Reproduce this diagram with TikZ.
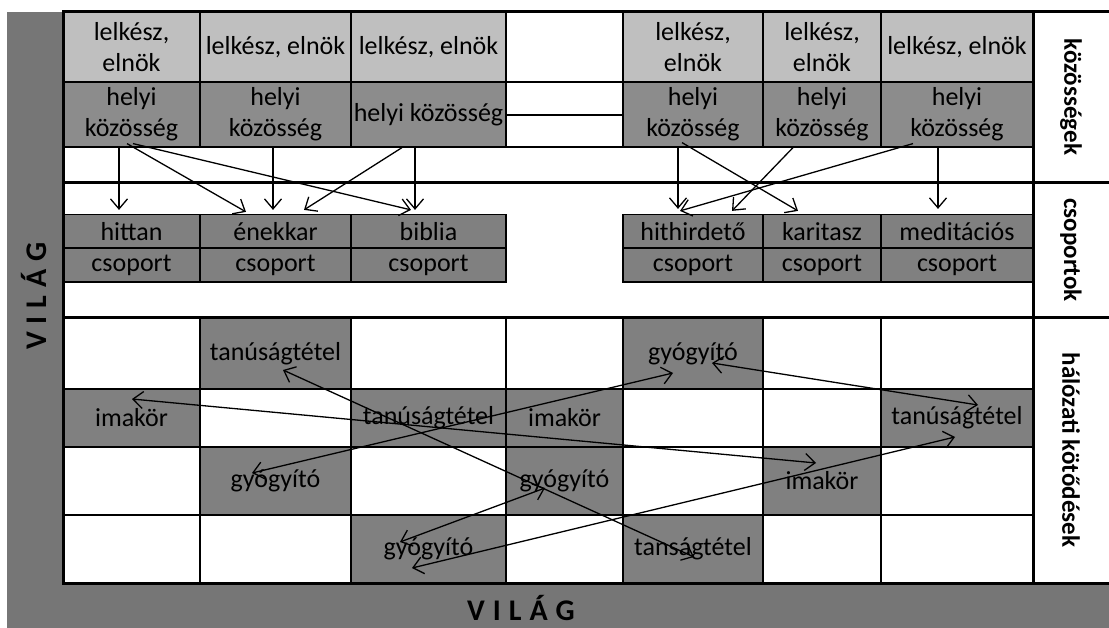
\documentclass[tikz,border=0pt]{standalone}
\usepackage{fontspec}
\setmainfont{Carlito}
\usetikzlibrary{arrows.meta}
\definecolor{leadgray}{RGB}{191,191,191}
\definecolor{localgray}{RGB}{140,140,140}
\definecolor{groupgray}{RGB}{128,128,128}
\definecolor{netgray}{RGB}{128,128,128}
\definecolor{worldgray}{RGB}{118,118,118}
\begin{document}
\begin{tikzpicture}[x=1pt,y=-1pt,>={Straight Barb[length=10pt,width=17pt]}]
\tikzstyle{cell}=[draw, line width=1.2pt, inner sep=0pt, align=center, font=\fontsize{26}{31}\selectfont]
\tikzstyle{lead}=[cell, fill=leadgray, minimum height=70pt]
\tikzstyle{local}=[cell, fill=localgray, minimum height=65pt]
\tikzstyle{group}=[cell, fill=groupgray, minimum height=34pt]
\tikzstyle{net}=[cell, fill=netgray]
\tikzstyle{side}=[font=\fontsize{25}{30}\selectfont\bfseries, rotate=-90]
\tikzstyle{world}=[font=\fontsize{30}{36}\selectfont\bfseries]
\tikzstyle{link}=[line width=1.3pt]
\tikzstyle{frame}=[line width=3pt]
\useasboundingbox (0,0) rectangle (1109,628);

% world band
\fill[worldgray] (7,12) rectangle (62,628);
\fill[worldgray] (7,583) rectangle (1109,628);
\node [world, rotate=90] (wl) at (34,296) {V\kern8pt I\kern8pt L\kern8pt Á\kern8pt G};
\node [world] (wb) at (521,608) {V\kern8pt I\kern8pt L\kern8pt Á\kern8pt G};

% communities
\node [lead, minimum width=137pt] (l1) at (131.5,47) {lelkész,\\elnök};
\node [lead, minimum width=151pt] (l2) at (275.5,47) {lelkész, elnök};
\node [lead, minimum width=155pt] (l3) at (428.5,47) {lelkész, elnök};
\node [lead, minimum width=140pt] (l5) at (693,47) {lelkész,\\elnök};
\node [lead, minimum width=118pt] (l6) at (822,47) {lelkész,\\elnök};
\node [lead, minimum width=152pt] (l7) at (957,47) {lelkész, elnök};
\node [local, minimum width=137pt] (h1) at (131.5,114.5) {helyi\\közösség};
\node [local, minimum width=151pt] (h2) at (275.5,114.5) {helyi\\közösség};
\node [local, minimum width=155pt] (h3) at (428.5,114.5) {helyi közösség};
\node [local, minimum width=140pt] (h5) at (693,114.5) {helyi\\közösség};
\node [local, minimum width=118pt] (h6) at (822,114.5) {helyi\\közösség};
\node [local, minimum width=152pt] (h7) at (957,114.5) {helyi\\közösség};
\draw[link] (506,82) -- (623,82);
\draw[link] (506,115) -- (623,115);
\draw[link] (506,147) -- (623,147);

% groups
\node [group, minimum width=137pt] (g1) at (131.5,231.5) {hittan};
\node [group, minimum width=151pt] (g2) at (275.5,231.5) {énekkar};
\node [group, minimum width=155pt] (g3) at (428.5,231.5) {biblia};
\node [group, minimum width=140pt] (g5) at (693,231.5) {hithirdető};
\node [group, minimum width=118pt] (g6) at (822,231.5) {karitasz};
\node [group, minimum width=152pt] (g7) at (957,231.5) {meditációs};
\node [group, minimum width=137pt] (c1) at (131.5,265) {csoport};
\node [group, minimum width=151pt] (c2) at (275.5,265) {csoport};
\node [group, minimum width=155pt] (c3) at (428.5,265) {csoport};
\node [group, minimum width=140pt] (c5) at (693,265) {csoport};
\node [group, minimum width=118pt] (c6) at (822,265) {csoport};
\node [group, minimum width=152pt] (c7) at (957,265) {csoport};

% network grid
\draw[link] (63,389) -- (1033,389);
\draw[link] (63,447) -- (1033,447);
\draw[link] (63,515) -- (1033,515);
\draw[link] (200,318) -- (200,583);
\draw[link] (351,318) -- (351,583);
\draw[link] (506,318) -- (506,583);
\draw[link] (623,318) -- (623,583);
\draw[link] (763,318) -- (763,583);
\draw[link] (881,318) -- (881,583);
\node [net, minimum width=151pt, minimum height=71pt] (n12) at (275.5,353.5) {tanúságtétel};
\node [net, minimum width=140pt, minimum height=71pt] (n15) at (693,353.5) {gyógyító};
\node [net, minimum width=137pt, minimum height=58pt] (n21) at (131.5,418) {imakör};
\node [net, minimum width=155pt, minimum height=58pt] (n23) at (428.5,418) {tanúságtétel};
\node [net, minimum width=117pt, minimum height=58pt] (n24) at (564.5,418) {imakör};
\node [net, minimum width=152pt, minimum height=58pt] (n27) at (957,418) {tanúságtétel};
\node [net, minimum width=151pt, minimum height=68pt] (n32) at (275.5,481) {gyógyító};
\node [net, minimum width=117pt, minimum height=68pt] (n34) at (564.5,481) {gyógyító};
\node [net, minimum width=118pt, minimum height=68pt] (n36) at (822,481) {imakör};
\node [net, minimum width=155pt, minimum height=68pt] (n43) at (428.5,549) {gyógyító};
\node [net, minimum width=140pt, minimum height=68pt] (n45) at (693,549) {tanságtétel};

% frame
\draw[frame] (63,12) -- (1109,12);
\draw[frame] (63,183) -- (1109,183);
\draw[frame] (63,318) -- (1109,318);
\draw[frame] (63,583) -- (1109,583);
\draw[frame] (63,10.5) -- (63,584.5);
\draw[frame] (1033,12) -- (1033,583);

% side labels
\node [side] (s1) at (1071,97) {közösségek};
\node [side] (s2) at (1071,250) {csoportok};
\node [side] (s3) at (1071,450) {hálózati kötődések};

% communities to groups
\draw[link,->] ([xshift=-12.5pt]h1.south) -- ([xshift=-12.5pt,yshift=4pt]g1.north);
\draw[link,->] ([xshift=-4.5pt,yshift=4pt]h1.south) -- ([xshift=-29.5pt,yshift=2pt]g2.north);
\draw[link,->] ([xshift=1.5pt,yshift=4pt]h1.south) -- ([xshift=-17.5pt,yshift=4pt]g3.north);
\draw[link,->] ([xshift=-2.5pt]h2.south) -- ([xshift=-2.5pt,yshift=4pt]g2.north);
\draw[link,->] ([xshift=-26.5pt]h3.south) -- ([xshift=28.5pt,yshift=4pt]g2.north);
\draw[link,->] ([xshift=-13.5pt]h3.south) -- ([xshift=-13.5pt,yshift=4pt]g3.north);
\draw[link,->] ([xshift=-15pt]h5.south) -- ([xshift=-15pt,yshift=5pt]g5.north);
\draw[link,->] ([xshift=-11pt,yshift=5pt]h5.south) -- ([xshift=-24pt,yshift=3pt]g6.north);
\draw[link,->] ([xshift=-29pt]h6.south) -- ([xshift=39pt,yshift=3pt]g5.north);
\draw[link,->] ([xshift=-44pt,yshift=4pt]h7.south) -- ([xshift=-13pt,yshift=3pt]g5.north);
\draw[link,->] ([xshift=-19pt]h7.south) -- ([xshift=-19pt,yshift=5pt]g7.north);

% network ties
\draw[link,<->] ([xshift=7.5pt,yshift=-16.5pt]n12.center) -- ([xshift=1pt,yshift=-8pt]n45.center);
\draw[link,<->] ([xshift=0.5pt,yshift=19pt]n21.center) -- ([xshift=-6pt,yshift=18pt]n36.center);
\draw[link,<->] ([xshift=-23.5pt,yshift=8pt]n32.center) -- ([xshift=-20pt,yshift=-19.5pt]n15.center);
\draw[link,<->] ([xshift=19pt,yshift=-9.5pt]n15.center) -- ([xshift=21pt,yshift=13pt]n27.center);
\draw[link,<->] ([xshift=-16.5pt,yshift=-19pt]n43.center) -- ([xshift=-2pt,yshift=-19pt]n27.center);
\draw[link,<->] ([xshift=-28.5pt,yshift=7pt]n43.center) -- ([xshift=-19.5pt,yshift=-7pt]n34.center);
\end{tikzpicture}
\end{document}
